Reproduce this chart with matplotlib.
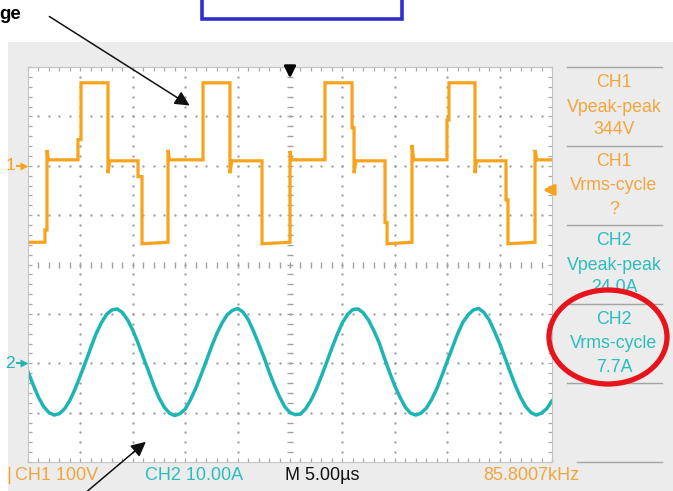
import matplotlib
matplotlib.use("Agg")
import matplotlib.pyplot as plt
import matplotlib.patches as patches
import numpy as np

plt.rcParams['font.family'] = ['Liberation Sans', 'DejaVu Sans']

# scope settings (as shown in the status bar)
ch1_scale = 100.0     # V/div
ch2_scale = 10.0      # A/div
time_scale = 5.0      # us/div
n_xdiv, n_ydiv = 10, 8
ch1_offset = 2.0      # div above centre
ch2_offset = -2.0     # div below centre
trig_level = -49.0    # V on CH1

# CH1 voltage trace, corner points (us, V)
ch1_t = [0.0, 1.62, 1.62, 1.81, 1.81, 1.95, 4.77, 4.77, 5.06, 5.06, 7.63, 7.63, 7.80,
         10.50, 10.50, 10.88, 10.88, 13.36, 13.36, 13.50, 16.70, 16.70, 19.27, 19.27,
         19.45, 22.33, 22.33, 25.00, 25.00, 25.15, 28.34, 28.34, 30.92, 30.92, 31.11,
         31.11, 31.30, 34.07, 34.07, 34.26, 34.26, 36.64, 36.64, 36.80, 39.98, 39.98,
         40.17, 40.17, 42.65, 42.65, 42.80, 45.61, 45.61, 45.80, 45.80, 48.38, 48.38,
         48.55, 50.0]
ch1_v = [-155, -155, -130, -130, 32, 12, 12, 53, 53, 168, 168, -15, 10,
         10, -22, -22, -158, -155, 32, 12, 12, 168, 168, -15,
         10, 10, -158, -155, 30, 12, 12, 168, 168, 77, 77,
         -15, 10, 10, -115, -115, -158, -155, 42, 12, 12, 93,
         93, 168, 168, -15, 10, 10, -69, -69, -158, -155, 32,
         12, 12]

# CH2 current trace, sampled every 0.5 us (A)
ch2_dt = 0.5
ch2_i = [-1.7, -4.4, -6.9, -8.8, -10.0, -10.5, -10.2, -9.2, -7.5, -5.2, -2.5, 0.3,
         3.2, 6.0, 8.2, 9.9, 10.8, 11.0, 10.3, 8.8, 6.7, 4.1, 1.2,
         -1.6, -4.5, -7.0, -8.9, -10.1, -10.6, -10.2, -9.3, -7.4, -5.1, -2.4, 0.4,
         3.3, 5.9, 8.1, 9.8, 10.7, 11.1, 10.4, 8.9, 6.6, 4.0, 1.3,
         -1.7, -4.4, -6.8, -8.8, -10.0, -10.4, -10.3, -9.2, -7.5, -5.3, -2.6, 0.2,
         3.1, 5.8, 8.2, 9.9, 10.9, 11.0, 10.2, 8.7, 6.6, 4.2, 1.1,
         -1.8, -4.6, -6.9, -8.9, -10.1, -10.5, -10.1, -9.1, -7.4, -5.2, -2.5, 0.4,
         3.2, 6.0, 8.3, 9.8, 10.8, 11.1, 10.3, 8.8, 6.5, 4.0, 1.2,
         -1.7, -4.5, -6.9, -8.8, -10.0, -10.5, -10.1, -9.2, -7.6]

# measurement panel
meas_src = ['CH1', 'CH1', 'CH2', 'CH2']
meas_name = ['Vpeak-peak', 'Vrms-cycle', 'Vpeak-peak', 'Vrms-cycle']
meas_value = ['344V', '?', '24.0A', '7.7A']

# status bar
status_text = ['CH1 100V', 'CH2 10.00A', 'M 5.00\u00b5s', '85.8007kHz']

orange = '#f7a31c'
orange_txt = '#f2a53c'
teal = '#1db4b4'
teal_txt = '#2bbdbd'
dotc = '#a0a0a0'

W, H = 673, 491
fig = plt.figure(figsize=(W / 100, H / 100), dpi=100)
fig.patch.set_facecolor('white')

# screen geometry in pixels
gl, gr, gt, gb = 28, 552, 67, 462
div_h = (gb - gt) / n_ydiv

def px_axes(z):
    a = fig.add_axes([0, 0, 1, 1], zorder=z)
    a.set_xlim(0, W)
    a.set_ylim(H, 0)
    a.axis('off')
    a.patch.set_alpha(0)
    return a

bg = px_axes(0)
bg.add_patch(patches.Rectangle((8, 42), W - 8, H - 42, facecolor='#ececec', edgecolor='none'))

# measurement boxes
for k in range(5):
    y = gt + 79 * k
    bg.plot([567, 662], [y, y], color='#a4a4a4', lw=1)
bg.plot([577, 662], [gb, gb], color='#a4a4a4', lw=1)
for k in range(4):
    y = gt + 79 * k
    c = orange_txt if meas_src[k] == 'CH1' else teal_txt
    for dy, s in zip([15, 40, 63], [meas_src[k], meas_name[k], meas_value[k]]):
        bg.text(614, y + dy, s, ha='center', va='center', fontsize=12.8, color=c)

# status bar
for x, s, c in zip([15, 145, 285, 483], status_text, [orange_txt, teal_txt, '#111111', orange_txt]):
    bg.text(x, 475, s, ha='left', va='center', fontsize=13, color=c)
bg.plot([8.5, 8.5], [467, 483], color=orange, lw=1)

# channel ground markers
for off, lab, c in [(ch1_offset, '1', orange), (ch2_offset, '2', teal)]:
    y = gt + (n_ydiv / 2 - off) * div_h
    bg.text(15, y, lab, ha='right', va='center', fontsize=12.5, color=c)
    bg.plot([17, 23], [y, y], color=c, lw=1.4)
    bg.plot(24, y, marker='>', ms=6, color=c, mec='none')

# scope screen
ax = fig.add_axes([gl / W, (H - gb) / H, (gr - gl) / W, (gb - gt) / H], zorder=1)
ax.set_facecolor('white')
xmax = n_xdiv * time_scale
ax.set_xlim(0, xmax)
ax.set_ylim(-n_ydiv / 2, n_ydiv / 2)
for s in ax.spines.values():
    s.set_color('#c4c4c4')
    s.set_linewidth(0.8)
ax.set_xticks(np.arange(0, xmax + 0.1, time_scale / 5))
ax.set_yticks(np.arange(-4, 4.01, 0.2))
ax.set_xticklabels([])
ax.set_yticklabels([])
ax.tick_params(direction='in', length=3.2, width=0.9, color='#a8a8a8',
               top=True, right=True)

minor_x = np.arange(time_scale / 5, xmax, time_scale / 5)
minor_y = np.arange(-3.8, 3.81, 0.2)
for j in range(1, n_xdiv):
    if j == n_xdiv // 2:
        ax.plot(np.full(minor_y.size, j * time_scale), minor_y, ls='none',
                marker='_', ms=4.5, mew=1.0, color=dotc)
    else:
        ax.plot(np.full(minor_y.size, j * time_scale), minor_y, ls='none',
                marker='o', ms=1.7, mec='none', color=dotc)
for j in range(-3, 4):
    if j == 0:
        ax.plot(minor_x, np.zeros(minor_x.size), ls='none',
                marker='|', ms=4.5, mew=1.0, color=dotc)
    else:
        ax.plot(minor_x, np.full(minor_x.size, j), ls='none',
                marker='o', ms=1.7, mec='none', color=dotc)

ch2_t = np.arange(len(ch2_i)) * ch2_dt
ax.plot(ch1_t, np.array(ch1_v) / ch1_scale + ch1_offset, color=orange, lw=2.3,
        solid_joinstyle='miter')
ax.plot(ch2_t, np.array(ch2_i) / ch2_scale + ch2_offset, color=teal, lw=2.5)

# overlay: markers, callouts
ov = px_axes(2)
ov.annotate('', xy=(290, 81), xytext=(290, 67),
            arrowprops=dict(arrowstyle='-|>', color='black', lw=2.0, mutation_scale=17))
ty = gt + (n_ydiv / 2 - (trig_level / ch1_scale + ch1_offset)) * div_h
ov.annotate('', xy=(540, ty), xytext=(555, ty),
            arrowprops=dict(arrowstyle='-|>', color=orange, lw=2.2, mutation_scale=16))

ov.add_patch(patches.Rectangle((202, -10), 200, 29, fill=False, edgecolor='#2e2ed0', lw=2.6))
ov.text(-1, 19, 'ge', ha='left', va='baseline', fontsize=13.5, fontweight='bold', color='black')
ov.annotate('', xy=(192, 107), xytext=(47, 15),
            arrowprops=dict(arrowstyle='-|>', color='#111111', lw=1.1, mutation_scale=22))
ov.annotate('', xy=(148, 440), xytext=(84, 494),
            arrowprops=dict(arrowstyle='-|>', color='#111111', lw=1.1, mutation_scale=22))
ov.add_patch(patches.Ellipse((608, 337), 118, 94, fill=False, edgecolor='#e8141c', lw=3.8))

fig.savefig('out.png', dpi=100)
